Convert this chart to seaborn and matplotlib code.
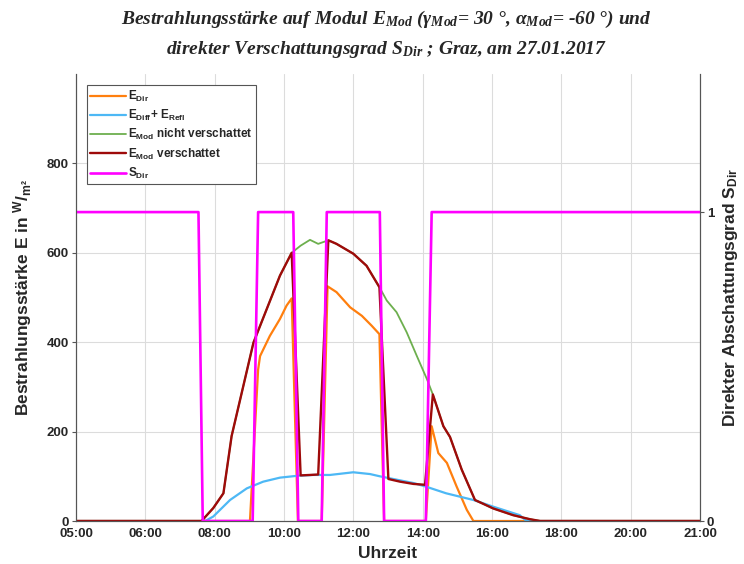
import numpy as np
import pandas as pd
import matplotlib
matplotlib.use("Agg")
import matplotlib.pyplot as plt
import seaborn as sns

# ---------------- data (time in hours on the axis scale) ----------------
xtick_labels = ["05:00", "06:00", "08:00", "10:00", "12:00", "14:00",
                "16:00", "18:00", "20:00", "21:00"]

t_mod = [5.0, 8.22, 8.52, 8.78, 8.99, 9.25, 9.55, 9.89, 10.23, 10.53,
         10.76, 11.0, 11.21, 11.47, 11.68, 12.11, 12.45, 12.78, 13.01,
         13.31, 13.65, 13.95, 14.15, 14.42, 14.59, 14.89, 15.23, 15.70,
         16.21, 16.64, 16.90, 21.0]
e_mod_shaded = [0, 0, 29, 62, 190, 287, 399, 474, 549, 600,
                102, 103, 104, 628, 620, 598, 571, 523, 94,
                88, 83, 81, 283, 212, 188, 115, 47, 28,
                13, 4, 0, 0]

t_free = [5.0, 8.22, 8.52, 8.78, 8.99, 9.25, 9.55, 9.89, 10.23, 10.53,
          10.76, 11.0, 11.21, 11.34, 11.47, 11.68, 12.11, 12.45, 12.78,
          12.97, 13.22, 13.48, 13.74, 14.0, 14.15, 14.42, 14.59, 14.89,
          15.23, 15.70, 16.21, 16.64, 16.90, 21.0]
e_mod_free = [0, 0, 29, 62, 190, 287, 399, 474, 549, 600,
              616, 629, 620, 624, 628, 620, 598, 571, 523,
              493, 467, 422, 369, 317, 283, 212, 188, 115,
              47, 28, 13, 4, 0, 0]

t_dir = [5.0, 9.46, 9.67, 9.72, 9.97, 10.23, 10.40, 10.53, 10.69, 11.30,
         11.45, 11.68, 12.03, 12.33, 12.58, 12.78, 12.90, 13.97, 14.12,
         14.29, 14.51, 14.76, 15.02, 15.19, 21.0]
e_dir = [0, 0, 339, 369, 414, 452, 482, 498, 0, 0,
         525, 512, 478, 459, 437, 418, 0, 0, 212,
         152, 130, 77, 25, 0, 0]

t_diff = [5.0, 8.31, 8.52, 8.95, 9.38, 9.80, 10.23, 10.66, 11.08, 11.51,
          12.11, 12.54, 12.79, 13.65, 13.97, 14.49, 15.19, 15.70, 16.38,
          16.55, 21.0]
e_diff_refl = [0, 0, 10, 47, 73, 88, 97, 101, 103, 103,
               109, 105, 100, 85, 77, 62, 47, 32, 13,
               0, 0]

t_sdir = [5.0, 8.14, 8.25, 9.53, 9.67, 10.57, 10.70, 11.30, 11.43,
          12.79, 12.90, 13.97, 14.12, 21.0]
s_dir = [1, 1, 0, 0, 1, 1, 0, 0, 1, 1, 0, 0, 1, 1]

# ---------------- styling ----------------
sns.set_theme(style="white")
plt.rcParams["font.family"] = ["Liberation Sans", "DejaVu Sans"]
plt.rcParams["mathtext.fontset"] = "custom"
plt.rcParams["mathtext.it"] = "Liberation Serif:italic:bold"
plt.rcParams["mathtext.rm"] = "Liberation Serif:bold"
plt.rcParams["mathtext.default"] = "regular"

c_dir = "#FF7F0E"
c_diff = "#4DB8F5"
c_free = "#6DAF4E"
c_shad = "#9E0A0A"
c_s = "#FF00FF"

fig = plt.figure(figsize=(7.44, 5.64), dpi=100)
ax = fig.add_axes([76 / 744, 1 - 521 / 564, 624 / 744, (521 - 74) / 564])
ax2 = ax.twinx()

sns.lineplot(x=t_dir, y=e_dir, ax=ax, color=c_dir, lw=1.6, label="E$_{Dir}$")
sns.lineplot(x=t_diff, y=e_diff_refl, ax=ax, color=c_diff, lw=1.6,
             label="E$_{Diff}$+ E$_{Refl}$")
sns.lineplot(x=t_free, y=e_mod_free, ax=ax, color=c_free, lw=1.3,
             label="E$_{Mod}$ nicht verschattet")
sns.lineplot(x=t_mod, y=e_mod_shaded, ax=ax, color=c_shad, lw=1.7,
             label="E$_{Mod}$ verschattet")
sns.lineplot(x=t_sdir, y=s_dir, ax=ax2, color=c_s, lw=1.9, label="S$_{Dir}$")

ax.set_xlim(5, 21)
ax.set_ylim(0, 1000)
ax2.set_ylim(0, 1.447)
ax.set_xticks(np.linspace(5, 21, 10))
ax.set_xticklabels(xtick_labels)
ax.set_yticks([0, 200, 400, 600, 800])
ax2.set_yticks([0, 1])
ax2.set_yticklabels(["0", "1"])

ax.grid(True, color="#DCDCDC", lw=0.8)
ax.set_axisbelow(True)
for a in (ax, ax2):
    a.spines["top"].set_visible(False)
    for s in ("left", "right", "bottom"):
        a.spines[s].set_color("#555555")
        a.spines[s].set_linewidth(0.8)
    a.tick_params(direction="out", length=3, width=0.8, color="#555555",
                  labelsize=9.5, pad=2)
for lab in ax.get_xticklabels() + ax.get_yticklabels() + ax2.get_yticklabels():
    lab.set_fontweight("bold")

ax.set_xlabel("Uhrzeit", fontsize=12.5, fontweight="bold", labelpad=4)
ax.set_ylabel("Bestrahlungsstärke E in $^{W}/_{m²}$", fontsize=12.5,
              fontweight="bold", labelpad=9)
ax2.set_ylabel("Direkter Abschattungsgrad S$_{Dir}$", fontsize=12.5,
               fontweight="bold", labelpad=5)

h1, l1 = ax.get_legend_handles_labels()
h2, l2 = ax2.get_legend_handles_labels()
if ax2.get_legend() is not None:
    ax2.get_legend().remove()
leg = ax.legend(h1 + h2, l1 + l2, loc="upper left",
                bbox_to_anchor=(0.017, 0.975), frameon=True, fancybox=False,
                edgecolor="#555555", framealpha=1,
                prop={"weight": "bold", "size": 8.5},
                handlelength=3.0, handletextpad=0.2, labelspacing=0.35,
                borderpad=0.3, borderaxespad=0)
leg.get_frame().set_linewidth(0.8)

title = (r"Bestrahlungsstärke auf Modul E$_{\mathit{Mod}}$ "
         r"($\mathit{γ}_{\mathit{Mod}}$= 30 °, "
         r"$\mathit{α}_{\mathit{Mod}}$= -60 °) und" "\n"
         r"direkter Verschattungsgrad S$_{\mathit{Dir}}$ ; Graz, am 27.01.2017")
fig.text(386 / 744, 1 - 9 / 564, title, ha="center", va="top",
         fontsize=14, fontweight="bold", fontstyle="italic",
         family=["Liberation Serif", "DejaVu Serif"], linespacing=1.6)

fig.savefig("out.png", dpi=100)
